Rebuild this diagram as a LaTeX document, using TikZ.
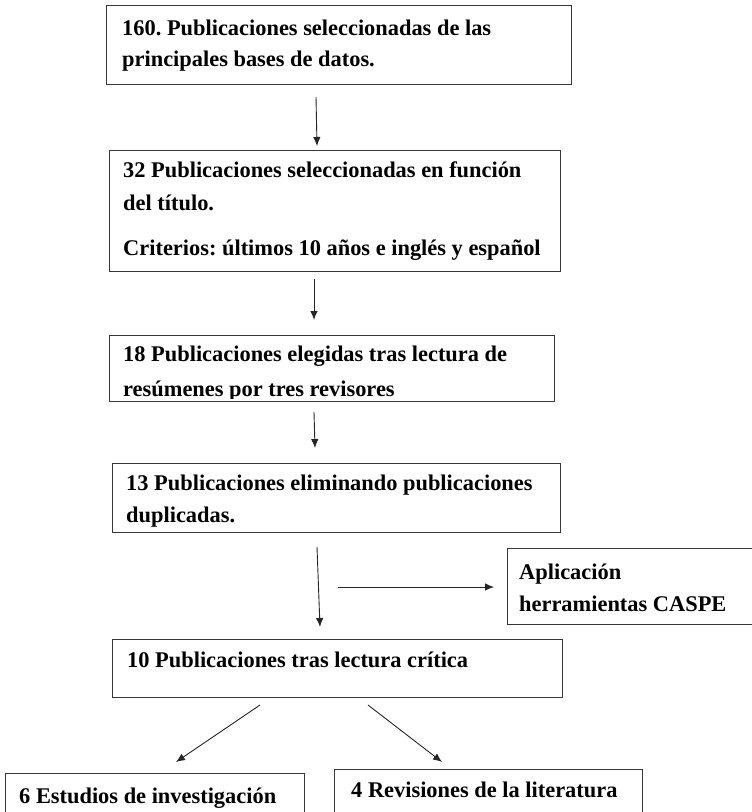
\documentclass[tikz,border=0pt]{standalone}
\usepackage{fontspec}
\setmainfont{Liberation Serif}
\usetikzlibrary{arrows.meta}
\frenchspacing
\begin{document}
\begin{tikzpicture}[x=1pt,y=-1pt,
  box/.style={draw=black!78, line width=1.2pt, rectangle, inner sep=0pt, anchor=north west},
  txt/.style={inner sep=0pt, anchor=base west, font=\fontsize{22.4}{27}\selectfont\bfseries, text=black},
  arr/.style={draw=black!85, line width=0.9pt, -{Latex[length=9pt,width=7.5pt]}}]
\useasboundingbox (0,0) rectangle (752,812);
% boxes
\node[box, minimum width=465pt, minimum height=79pt] (b1) at (106,5) {};
\node[box, minimum width=451pt, minimum height=121pt] (b2) at (109,150) {};
\node[box, minimum width=445pt, minimum height=66pt] (b3) at (109,335) {};
\node[box, minimum width=448pt, minimum height=69pt] (b4) at (112,463) {};
\node[box, minimum width=260pt, minimum height=76pt] (b5) at (507,548) {};
\node[box, minimum width=450pt, minimum height=58pt] (b6) at (112,639) {};
\node[box, minimum width=299pt, minimum height=60pt] (b7) at (5,773) {};
\node[box, minimum width=308pt, minimum height=60pt] (b8) at (334,769) {};
% texts
\node[txt] (t1a) at (122,35) {160. Publicaciones seleccionadas de las};
\node[txt] (t1b) at (122,66) {principales bases de datos.};
\node[txt] (t2a) at (123,177) {32 Publicaciones seleccionadas en función};
\node[txt] (t2b) at (123,210) {del título.};
\node[txt] (t2c) at (123,255) {Criterios: últimos 10 años e inglés y español};
\begin{scope}
\clip (100,330) rectangle (560,398.5);
\node[txt] (t3a) at (123,361) {18 Publicaciones elegidas tras lectura de};
\node[txt] (t3b) at (123,396) {resúmenes por tres revisores};
\end{scope}
\node[txt] (t4a) at (126,490) {13 Publicaciones eliminando publicaciones};
\node[txt] (t4b) at (126,522) {duplicadas.};
\node[txt] (t5a) at (519,579) {Aplicación};
\node[txt] (t5b) at (519,611) {herramientas CASPE};
\node[txt] (t6a) at (127,667) {10 Publicaciones tras lectura crítica};
\node[txt] (t7a) at (19,803) {6 Estudios de investigación};
\node[txt] (t8a) at (351,797) {4 Revisiones de la literatura};
% connector ends
\coordinate (a1s) at (316,97);  \coordinate (a1e) at (317,146);
\coordinate (a2s) at (314,279); \coordinate (a2e) at (314,320);
\coordinate (a3s) at (314,412); \coordinate (a3e) at (315,448);
\coordinate (a4s) at (317,547); \coordinate (a4e) at (320,627);
\coordinate (a5s) at (338,587); \coordinate (a5e) at (494,587);
\coordinate (a6s) at (260,705); \coordinate (a6e) at (176,762);
\coordinate (a7s) at (368,705); \coordinate (a7e) at (442,762);
\draw[arr] (a1s) -- (a1e);
\draw[arr] (a2s) -- (a2e);
\draw[arr] (a3s) -- (a3e);
\draw[arr] (a4s) -- (a4e);
\draw[arr] (a5s) -- (a5e);
\draw[arr] (a6s) -- (a6e);
\draw[arr] (a7s) -- (a7e);
\end{tikzpicture}
\end{document}
